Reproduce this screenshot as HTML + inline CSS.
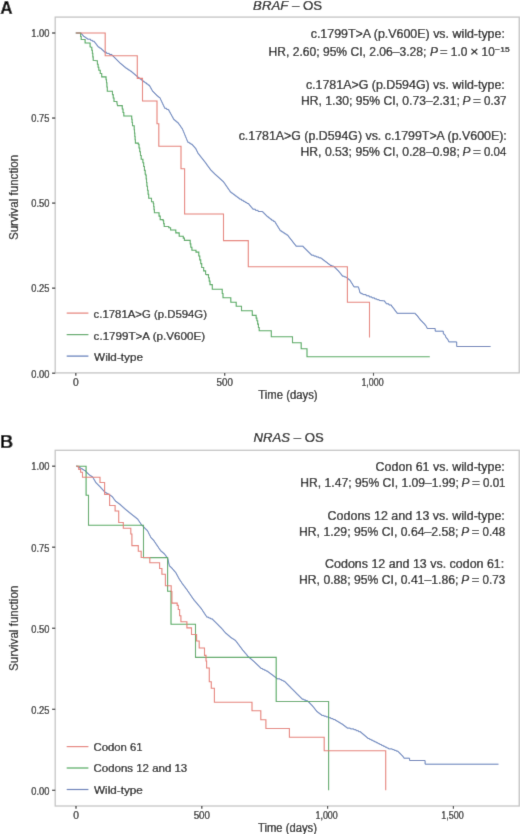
<!DOCTYPE html>
<html><head><meta charset="utf-8"><style>
html,body{margin:0;padding:0;background:#fff;width:520px;height:834px;overflow:hidden}
svg{display:block}
text{font-family:'Liberation Sans',sans-serif;white-space:pre;stroke:#000;stroke-width:0.22px}
</style></head><body>
<svg width="520" height="834" viewBox="0 0 520 834">
<defs><filter id="bl" x="0" y="0" width="520" height="834" filterUnits="userSpaceOnUse"><feConvolveMatrix order="3" kernelMatrix="0.0115 0.084 0.0115 0.084 0.619 0.084 0.0115 0.084 0.0115" divisor="1" edgeMode="duplicate" preserveAlpha="true"/></filter></defs>
<g filter="url(#bl)">
<rect width="520" height="834" fill="#fff"/>
<rect x="55.2" y="17.1" width="464.00000000000006" height="355.79999999999995" fill="none" stroke="#c4c4c4" stroke-width="1.3"/>
<line x1="52" y1="33.0" x2="55.2" y2="33.0" stroke="#111111" stroke-width="1.1"/>
<text x="31.28" y="37.00" textLength="18.19" lengthAdjust="spacingAndGlyphs" style="font-size:10.50px" fill="#111111">1.00</text>
<line x1="52" y1="118.05" x2="55.2" y2="118.05" stroke="#111111" stroke-width="1.1"/>
<text x="31.31" y="122.00" textLength="18.19" lengthAdjust="spacingAndGlyphs" style="font-size:10.50px" fill="#111111">0.75</text>
<line x1="52" y1="203.1" x2="55.2" y2="203.1" stroke="#111111" stroke-width="1.1"/>
<text x="31.28" y="207.00" textLength="18.19" lengthAdjust="spacingAndGlyphs" style="font-size:10.50px" fill="#111111">0.50</text>
<line x1="52" y1="288.15" x2="55.2" y2="288.15" stroke="#111111" stroke-width="1.1"/>
<text x="31.31" y="292.00" textLength="18.19" lengthAdjust="spacingAndGlyphs" style="font-size:10.50px" fill="#111111">0.25</text>
<line x1="52" y1="373.2" x2="55.2" y2="373.2" stroke="#111111" stroke-width="1.1"/>
<text x="31.28" y="378.00" textLength="18.19" lengthAdjust="spacingAndGlyphs" style="font-size:10.50px" fill="#111111">0.00</text>
<line x1="75.8" y1="372.9" x2="75.8" y2="375.7" stroke="#111111" stroke-width="1.1"/>
<text x="72.95" y="385.70" textLength="5.70" lengthAdjust="spacingAndGlyphs" style="font-size:10.20px" fill="#111111">0</text>
<line x1="224.7" y1="372.9" x2="224.7" y2="375.7" stroke="#111111" stroke-width="1.1"/>
<text x="216.56" y="385.70" textLength="16.28" lengthAdjust="spacingAndGlyphs" style="font-size:10.20px" fill="#111111">500</text>
<line x1="373.5" y1="372.9" x2="373.5" y2="375.7" stroke="#111111" stroke-width="1.1"/>
<text x="361.43" y="385.70" textLength="22.23" lengthAdjust="spacingAndGlyphs" style="font-size:10.20px" fill="#111111">1,000</text>
<rect x="55.2" y="450.3" width="464.00000000000006" height="355.7" fill="none" stroke="#c4c4c4" stroke-width="1.3"/>
<line x1="52" y1="466.2" x2="55.2" y2="466.2" stroke="#111111" stroke-width="1.1"/>
<text x="31.28" y="470.00" textLength="18.19" lengthAdjust="spacingAndGlyphs" style="font-size:10.50px" fill="#111111">1.00</text>
<line x1="52" y1="547.2" x2="55.2" y2="547.2" stroke="#111111" stroke-width="1.1"/>
<text x="31.31" y="552.00" textLength="18.19" lengthAdjust="spacingAndGlyphs" style="font-size:10.50px" fill="#111111">0.75</text>
<line x1="52" y1="628.25" x2="55.2" y2="628.25" stroke="#111111" stroke-width="1.1"/>
<text x="31.28" y="633.00" textLength="18.19" lengthAdjust="spacingAndGlyphs" style="font-size:10.50px" fill="#111111">0.50</text>
<line x1="52" y1="709.3" x2="55.2" y2="709.3" stroke="#111111" stroke-width="1.1"/>
<text x="31.31" y="714.00" textLength="18.19" lengthAdjust="spacingAndGlyphs" style="font-size:10.50px" fill="#111111">0.25</text>
<line x1="52" y1="790.3" x2="55.2" y2="790.3" stroke="#111111" stroke-width="1.1"/>
<text x="31.28" y="795.00" textLength="18.19" lengthAdjust="spacingAndGlyphs" style="font-size:10.50px" fill="#111111">0.00</text>
<line x1="76.0" y1="806.0" x2="76.0" y2="808.8" stroke="#111111" stroke-width="1.1"/>
<text x="73.15" y="818.80" textLength="5.70" lengthAdjust="spacingAndGlyphs" style="font-size:10.20px" fill="#111111">0</text>
<line x1="201.8" y1="806.0" x2="201.8" y2="808.8" stroke="#111111" stroke-width="1.1"/>
<text x="193.66" y="818.80" textLength="16.28" lengthAdjust="spacingAndGlyphs" style="font-size:10.20px" fill="#111111">500</text>
<line x1="327.6" y1="806.0" x2="327.6" y2="808.8" stroke="#111111" stroke-width="1.1"/>
<text x="315.53" y="818.80" textLength="22.23" lengthAdjust="spacingAndGlyphs" style="font-size:10.20px" fill="#111111">1,000</text>
<line x1="453.4" y1="806.0" x2="453.4" y2="808.8" stroke="#111111" stroke-width="1.1"/>
<text x="441.17" y="818.80" textLength="22.54" lengthAdjust="spacingAndGlyphs" style="font-size:10.20px" fill="#111111">1,500</text>
<polyline points="75.80,33.00 80.50,33.00 81.25,33.00 81.25,33.88 82.00,33.88 82.00,34.75 82.75,34.75 82.75,35.62 83.50,35.62 83.50,36.50 84.80,36.50 84.80,37.40 86.10,37.40 86.10,38.30 87.40,38.30 87.40,39.20 90.50,39.20 90.50,40.30 92.40,40.30 92.40,41.25 94.30,41.25 94.30,42.20 95.08,42.20 95.08,43.20 95.86,43.20 95.86,44.20 96.64,44.20 96.64,45.20 97.42,45.20 97.42,46.20 98.20,46.20 98.20,47.20 99.70,47.20 99.70,48.20 101.20,48.20 101.20,49.20 102.23,49.20 102.23,50.20 103.27,50.20 103.27,51.20 104.30,51.20 104.30,52.20 106.60,52.20 106.60,53.40 109.30,53.40 109.30,54.45 112.00,54.45 112.00,55.50 113.00,55.50 113.00,56.50 114.00,56.50 114.00,57.50 115.00,57.50 115.00,58.50 116.00,58.50 116.00,59.50 117.00,59.50 117.00,60.50 118.00,60.50 118.00,61.50 119.00,61.50 119.00,62.50 120.00,62.50 120.00,63.50 121.16,63.50 121.16,64.46 122.32,64.46 122.32,65.42 123.48,65.42 123.48,66.38 124.64,66.38 124.64,67.34 125.80,67.34 125.80,68.30 127.22,68.30 127.22,69.25 128.65,69.25 128.65,70.20 130.07,70.20 130.07,71.15 131.50,71.15 131.50,72.10 132.63,72.10 132.63,73.07 133.77,73.07 133.77,74.03 134.90,74.03 134.90,75.00 136.03,75.00 136.03,75.97 137.17,75.97 137.17,76.93 138.30,76.93 138.30,77.90 139.64,77.90 139.64,78.90 140.98,78.90 140.98,79.90 142.32,79.90 142.32,80.90 143.66,80.90 143.66,81.90 145.00,81.90 145.00,82.90 146.53,82.90 146.53,84.03 148.07,84.03 148.07,85.17 149.60,85.17 149.60,86.30 150.18,86.30 150.18,87.34 150.76,87.34 150.76,88.38 151.34,88.38 151.34,89.42 151.92,89.42 151.92,90.46 152.50,90.46 152.50,91.50 153.50,91.50 153.50,92.53 154.50,92.53 154.50,93.55 155.50,93.55 155.50,94.57 156.50,94.57 156.50,95.60 157.67,95.60 157.67,96.57 158.83,96.57 158.83,97.53 160.00,97.53 160.00,98.50 160.46,98.50 160.46,99.48 160.92,99.48 160.92,100.46 161.38,100.46 161.38,101.44 161.84,101.44 161.84,102.42 162.30,102.42 162.30,103.40 162.76,103.40 162.76,104.38 163.22,104.38 163.22,105.36 163.68,105.36 163.68,106.34 164.14,106.34 164.14,107.32 164.60,107.32 164.60,108.30 166.65,108.30 166.65,109.45 168.70,109.45 168.70,110.60 169.27,110.60 169.27,111.62 169.83,111.62 169.83,112.64 170.40,112.64 170.40,113.67 170.97,113.67 170.97,114.69 171.53,114.69 171.53,115.71 172.10,115.71 172.10,116.73 172.67,116.73 172.67,117.76 173.23,117.76 173.23,118.78 173.80,118.78 173.80,119.80 174.98,119.80 174.98,120.80 176.15,120.80 176.15,121.80 177.32,121.80 177.32,122.80 178.50,122.80 178.50,123.80 179.17,123.80 179.17,124.77 179.83,124.77 179.83,125.73 180.50,125.73 180.50,126.70 181.17,126.70 181.17,127.67 181.83,127.67 181.83,128.63 182.50,128.63 182.50,129.60 182.90,129.60 182.90,130.58 183.30,130.58 183.30,131.55 183.70,131.55 183.70,132.53 184.10,132.53 184.10,133.51 184.50,133.51 184.50,134.48 184.90,134.48 184.90,135.46 185.30,135.46 185.30,136.44 185.70,136.44 185.70,137.42 186.10,137.42 186.10,138.39 186.50,138.39 186.50,139.37 186.90,139.37 186.90,140.35 187.30,140.35 187.30,141.32 187.70,141.32 187.70,142.30 189.23,142.30 189.23,143.27 190.77,143.27 190.77,144.23 192.30,144.23 192.30,145.20 193.18,145.20 193.18,146.20 194.05,146.20 194.05,147.20 194.93,147.20 194.93,148.20 195.80,148.20 195.80,149.20 196.26,149.20 196.26,150.12 196.72,150.12 196.72,151.04 197.18,151.04 197.18,151.96 197.64,151.96 197.64,152.88 198.10,152.88 198.10,153.80 198.86,153.80 198.86,154.76 199.62,154.76 199.62,155.73 200.39,155.73 200.39,156.69 201.15,156.69 201.15,157.65 201.91,157.65 201.91,158.61 202.67,158.61 202.67,159.57 203.44,159.57 203.44,160.54 204.20,160.54 204.20,161.50 204.97,161.50 204.97,162.56 205.75,162.56 205.75,163.62 206.53,163.62 206.53,164.69 207.30,164.69 207.30,165.75 208.07,165.75 208.07,166.81 208.85,166.81 208.85,167.88 209.62,167.88 209.62,168.94 210.40,168.94 210.40,170.00 211.32,170.00 211.32,170.92 212.24,170.92 212.24,171.84 213.16,171.84 213.16,172.76 214.08,172.76 214.08,173.68 215.00,173.68 215.00,174.60 216.06,174.60 216.06,175.56 217.12,175.56 217.12,176.53 218.19,176.53 218.19,177.49 219.25,177.49 219.25,178.45 220.31,178.45 220.31,179.41 221.38,179.41 221.38,180.38 222.44,180.38 222.44,181.34 223.50,181.34 223.50,182.30 224.19,182.30 224.19,183.30 224.88,183.30 224.88,184.30 225.57,184.30 225.57,185.30 226.26,185.30 226.26,186.30 226.95,186.30 226.95,187.30 227.64,187.30 227.64,188.30 228.33,188.30 228.33,189.30 229.02,189.30 229.02,190.30 229.71,190.30 229.71,191.30 230.40,191.30 230.40,192.30 231.71,192.30 231.71,193.29 233.03,193.29 233.03,194.27 234.34,194.27 234.34,195.26 235.66,195.26 235.66,196.24 236.97,196.24 236.97,197.23 238.29,197.23 238.29,198.21 239.60,198.21 239.60,199.20 241.44,199.20 241.44,200.28 243.28,200.28 243.28,201.36 245.12,201.36 245.12,202.44 246.96,202.44 246.96,203.52 248.80,203.52 248.80,204.60 249.58,204.60 249.58,205.52 250.36,205.52 250.36,206.44 251.14,206.44 251.14,207.36 251.92,207.36 251.92,208.28 252.70,208.28 252.70,209.20 255.40,209.20 255.40,210.35 258.10,210.35 258.10,211.50 262.70,211.50 262.70,212.30 263.62,212.30 263.62,213.22 264.54,213.22 264.54,214.14 265.46,214.14 265.46,215.06 266.38,215.06 266.38,215.98 267.30,215.98 267.30,216.90 268.70,216.90 268.70,218.00 270.10,218.00 270.10,219.10 271.50,219.10 271.50,220.20 273.25,220.20 273.25,221.35 275.00,221.35 275.00,222.50 275.65,222.50 275.65,223.55 276.30,223.55 276.30,224.60 276.95,224.60 276.95,225.65 277.60,225.65 277.60,226.70 278.25,226.70 278.25,227.75 278.90,227.75 278.90,228.80 279.55,228.80 279.55,229.85 280.20,229.85 280.20,230.90 281.70,230.90 281.70,231.88 283.20,231.88 283.20,232.86 284.70,232.86 284.70,233.84 286.20,233.84 286.20,234.82 287.70,234.82 287.70,235.80 288.51,235.80 288.51,236.84 289.32,236.84 289.32,237.88 290.13,237.88 290.13,238.92 290.94,238.92 290.94,239.96 291.75,239.96 291.75,241.00 292.56,241.00 292.56,242.04 293.37,242.04 293.37,243.08 294.18,243.08 294.18,244.12 294.99,244.12 294.99,245.16 295.80,245.16 295.80,246.20 303.30,246.20 303.30,247.30 304.30,247.30 304.30,248.29 305.30,248.29 305.30,249.28 306.30,249.28 306.30,250.26 307.30,250.26 307.30,251.25 308.30,251.25 308.30,252.24 309.30,252.24 309.30,253.22 310.30,253.22 310.30,254.21 311.30,254.21 311.30,255.20 313.79,255.20 313.79,256.09 316.27,256.09 316.27,256.98 318.76,256.98 318.76,257.86 321.25,257.86 321.25,258.75 322.50,258.75 322.50,259.70 323.75,259.70 323.75,260.65 325.00,260.65 325.00,261.60 326.25,261.60 326.25,262.55 327.50,262.55 327.50,263.50 328.75,263.50 328.75,264.45 330.00,264.45 330.00,265.40 331.90,265.40 331.90,266.15 333.80,266.15 333.80,266.90 334.74,266.90 334.74,267.82 335.68,267.82 335.68,268.74 336.62,268.74 336.62,269.66 337.56,269.66 337.56,270.58 338.50,270.58 338.50,271.50 339.26,271.50 339.26,272.44 340.02,272.44 340.02,273.38 340.78,273.38 340.78,274.32 341.54,274.32 341.54,275.26 342.30,275.26 342.30,276.20 344.25,276.20 344.25,276.95 346.20,276.95 346.20,277.70 347.47,277.70 347.47,278.73 348.73,278.73 348.73,279.77 350.00,279.77 350.00,280.80 350.63,280.80 350.63,281.82 351.27,281.82 351.27,282.83 351.90,282.83 351.90,283.85 352.53,283.85 352.53,284.87 353.17,284.87 353.17,285.88 353.80,285.88 353.80,286.90 358.50,286.90 358.50,287.70 358.80,287.70 358.80,288.78 359.10,288.78 359.10,289.86 359.40,289.86 359.40,290.94 359.70,290.94 359.70,292.02 360.00,292.02 360.00,293.10 361.55,293.10 361.55,293.85 363.10,293.85 363.10,294.60 366.15,294.60 366.15,295.75 369.20,295.75 369.20,296.90 371.90,296.90 371.90,297.90 374.60,297.90 374.60,298.90 376.90,298.90 376.90,299.70 379.20,299.70 379.20,300.50 383.80,300.80 384.60,300.80 384.60,301.80 385.40,301.80 385.40,302.80 386.20,302.80 386.20,303.80 388.85,303.80 388.85,305.00 391.50,305.00 391.50,306.20 392.27,306.20 392.27,307.20 393.03,307.20 393.03,308.20 393.80,308.20 393.80,309.20 394.57,309.20 394.57,310.23 395.35,310.23 395.35,311.25 396.12,311.25 396.12,312.27 396.90,312.27 396.90,313.30 414.20,313.30 415.35,313.30 415.35,314.40 416.50,314.40 416.50,315.50 417.50,315.50 417.50,316.75 418.50,316.75 418.50,318.00 419.45,318.00 419.45,319.20 420.40,319.20 420.40,320.40 421.45,320.40 421.45,321.45 422.50,321.45 422.50,322.50 423.45,322.50 423.45,323.45 424.40,323.45 424.40,324.40 425.20,324.40 425.20,325.45 426.00,325.45 426.00,326.50 426.55,326.50 426.55,327.50 427.10,327.50 427.10,328.50 435.20,328.50 435.20,331.20 443.30,331.20 443.30,333.80 444.15,333.80 444.15,334.65 445.00,334.65 445.00,335.50 445.50,335.50 445.50,336.70 446.00,336.70 446.00,337.90 446.75,337.90 446.75,338.70 447.50,338.70 447.50,339.50 448.10,339.50 448.10,340.70 448.70,340.70 448.70,341.90 456.70,341.90 456.70,346.50 490.60,346.50" fill="none" stroke="#5475B6" stroke-width="1.0" stroke-linejoin="miter"/>
<polyline points="75.80,33.00 80.60,33.00 80.60,36.50 81.20,36.50 81.20,39.50 85.10,39.50 85.10,43.00 88.90,43.00 90.10,43.00 90.10,46.80 91.20,47.20 91.80,47.20 91.80,50.30 92.40,50.30 92.40,53.40 92.80,53.40 92.80,56.85 93.20,56.85 93.20,60.30 96.60,60.70 97.40,60.70 97.40,64.20 98.10,64.20 98.10,67.20 98.80,67.20 98.80,70.20 100.25,70.20 100.25,73.55 101.70,73.55 101.70,76.90 105.60,76.90 106.05,76.90 106.05,79.80 106.50,79.80 106.50,82.70 106.90,82.70 106.90,86.95 107.30,86.95 107.30,91.20 111.70,91.20 112.47,91.20 112.47,94.63 113.23,94.63 113.23,98.07 114.00,98.07 114.00,101.50 116.90,101.50 116.90,102.70 117.50,105.60 121.50,105.60 122.27,105.60 122.27,109.07 123.03,109.07 123.03,112.53 123.80,112.53 123.80,116.00 131.30,116.00 131.70,116.00 131.70,119.27 132.10,119.27 132.10,122.53 132.50,122.53 132.50,125.80 134.20,125.80 134.20,129.80 134.50,129.80 134.50,133.12 134.80,133.12 134.80,136.45 135.10,136.45 135.10,139.78 135.40,139.78 135.40,143.10 138.30,143.10 138.30,144.20 139.03,144.20 139.03,147.95 139.75,147.95 139.75,151.70 140.47,151.70 140.47,155.45 141.20,155.45 141.20,159.20 142.90,159.20 142.90,162.70 143.67,162.70 143.67,166.53 144.43,166.53 144.43,170.37 145.20,170.37 145.20,174.20 145.80,174.20 145.80,175.20 146.17,175.20 146.17,178.87 146.53,178.87 146.53,182.53 146.90,182.53 146.90,186.20 147.50,186.20 147.50,190.23 148.10,190.23 148.10,194.27 148.70,194.27 148.70,198.30 151.50,198.30 151.50,201.70 153.30,201.70 153.30,203.50 153.67,203.50 153.67,206.57 154.03,206.57 154.03,209.63 154.40,209.63 154.40,212.70 157.90,212.70 159.05,212.70 159.05,216.15 160.20,216.15 160.20,219.60 163.10,219.60 163.10,220.80 163.65,220.80 163.65,223.65 164.20,223.65 164.20,226.50 168.80,226.50 168.80,227.70 170.60,227.70 170.60,230.00 174.00,230.00 175.80,230.00 175.80,232.90 179.20,232.90 179.20,236.30 183.30,236.30 183.30,238.10 184.40,238.10 184.40,240.40 189.60,240.40 190.20,240.40 190.20,243.85 190.80,243.85 190.80,247.30 191.90,247.30 191.90,250.20 196.00,250.20 196.00,252.10 198.80,252.10 198.80,256.00 199.77,256.00 199.77,259.83 200.73,259.83 200.73,263.67 201.70,263.67 201.70,267.50 203.65,267.50 203.65,270.85 205.60,270.85 205.60,274.20 206.20,274.60 208.50,274.60 208.50,277.70 209.25,277.70 209.25,281.15 210.00,281.15 210.00,284.60 212.30,284.60 212.30,289.20 221.50,289.20 222.25,289.20 222.25,293.45 223.00,293.45 223.00,297.70 229.20,297.70 230.80,297.70 230.80,302.30 235.40,302.30 236.20,302.30 236.20,306.20 240.80,306.20 241.50,306.20 241.50,310.80 250.80,310.80 252.30,310.80 252.30,315.40 255.40,315.40 256.15,315.40 256.15,318.10 256.90,318.10 256.90,320.80 257.67,320.80 257.67,324.13 258.43,324.13 258.43,327.47 259.20,327.47 259.20,330.80 271.30,330.80 271.30,336.80 292.50,336.80 292.50,342.80 301.20,342.80 301.20,348.80 307.00,348.80 307.00,356.80 429.80,356.80" fill="none" stroke="#47A656" stroke-width="1.1" stroke-linejoin="miter"/>
<polyline points="75.80,33.00 105.20,33.00 105.20,55.70 137.30,55.70 137.30,78.40 142.50,78.40 142.50,101.00 157.00,101.00 157.00,123.70 158.80,123.70 158.80,146.20 181.00,146.20 181.00,168.70 184.60,168.70 184.60,214.00 223.50,214.00 223.50,240.60 248.30,240.60 248.30,266.80 347.40,266.80 347.40,302.20 369.50,302.20 369.50,337.50" fill="none" stroke="#E57B72" stroke-width="1.1" stroke-linejoin="miter"/>
<polyline points="76.00,466.20 77.63,466.20 77.63,467.03 79.27,467.03 79.27,467.87 80.90,467.87 80.90,468.70 82.43,468.70 82.43,469.63 83.97,469.63 83.97,470.57 85.50,470.57 85.50,471.50 86.38,471.50 86.38,472.38 87.25,472.38 87.25,473.25 88.12,473.25 88.12,474.12 89.00,474.12 89.00,475.00 90.17,475.00 90.17,475.77 91.33,475.77 91.33,476.53 92.50,476.53 92.50,477.30 93.07,477.30 93.07,478.27 93.63,478.27 93.63,479.23 94.20,479.23 94.20,480.20 94.77,480.20 94.77,481.17 95.33,481.17 95.33,482.13 95.90,482.13 95.90,483.10 96.82,483.10 96.82,484.02 97.74,484.02 97.74,484.94 98.66,484.94 98.66,485.86 99.58,485.86 99.58,486.78 100.50,486.78 100.50,487.70 101.32,487.70 101.32,488.62 102.14,488.62 102.14,489.54 102.96,489.54 102.96,490.46 103.78,490.46 103.78,491.38 104.60,491.38 104.60,492.30 105.93,492.30 105.93,493.07 107.27,493.07 107.27,493.83 108.60,493.83 108.60,494.60 109.77,494.60 109.77,495.37 110.93,495.37 110.93,496.13 112.10,496.13 112.10,496.90 112.78,496.90 112.78,497.82 113.46,497.82 113.46,498.74 114.14,498.74 114.14,499.66 114.82,499.66 114.82,500.58 115.50,500.58 115.50,501.50 116.72,501.50 116.72,502.43 117.95,502.43 117.95,503.35 119.18,503.35 119.18,504.27 120.40,504.27 120.40,505.20 121.37,505.20 121.37,506.07 122.33,506.07 122.33,506.93 123.30,506.93 123.30,507.80 124.27,507.80 124.27,508.67 125.23,508.67 125.23,509.53 126.20,509.53 126.20,510.40 127.34,510.40 127.34,511.32 128.48,511.32 128.48,512.24 129.62,512.24 129.62,513.16 130.76,513.16 130.76,514.08 131.90,514.08 131.90,515.00 133.06,515.00 133.06,515.92 134.22,515.92 134.22,516.84 135.38,516.84 135.38,517.76 136.54,517.76 136.54,518.68 137.70,518.68 137.70,519.60 138.28,519.60 138.28,520.47 138.87,520.47 138.87,521.33 139.45,521.33 139.45,522.20 140.03,522.20 140.03,523.07 140.62,523.07 140.62,523.93 141.20,523.93 141.20,524.80 141.97,524.80 141.97,525.57 142.73,525.57 142.73,526.33 143.50,526.33 143.50,527.10 144.30,527.10 144.30,527.92 145.10,527.92 145.10,528.74 145.90,528.74 145.90,529.56 146.70,529.56 146.70,530.38 147.50,530.38 147.50,531.20 147.94,531.20 147.94,532.06 148.38,532.06 148.38,532.93 148.81,532.93 148.81,533.79 149.25,533.79 149.25,534.65 149.69,534.65 149.69,535.51 150.12,535.51 150.12,536.38 150.56,536.38 150.56,537.24 151.00,537.24 151.00,538.10 151.93,538.10 151.93,539.07 152.87,539.07 152.87,540.03 153.80,540.03 153.80,541.00 154.38,541.00 154.38,541.87 154.97,541.87 154.97,542.73 155.55,542.73 155.55,543.60 156.13,543.60 156.13,544.47 156.72,544.47 156.72,545.33 157.30,545.33 157.30,546.20 157.88,546.20 157.88,547.05 158.47,547.05 158.47,547.90 159.05,547.90 159.05,548.75 159.63,548.75 159.63,549.60 160.22,549.60 160.22,550.45 160.80,550.45 160.80,551.30 161.93,551.30 161.93,552.27 163.07,552.27 163.07,553.23 164.20,553.23 164.20,554.20 164.90,554.20 164.90,555.06 165.60,555.06 165.60,555.92 166.30,555.92 166.30,556.78 167.00,556.78 167.00,557.64 167.70,557.64 167.70,558.50 167.89,558.50 167.89,559.36 168.08,559.36 168.08,560.21 168.27,560.21 168.27,561.07 168.46,561.07 168.46,561.92 168.64,561.92 168.64,562.78 168.83,562.78 168.83,563.63 169.02,563.63 169.02,564.49 169.21,564.49 169.21,565.34 169.40,565.34 169.40,566.20 170.37,566.20 170.37,567.13 171.33,567.13 171.33,568.07 172.30,568.07 172.30,569.00 173.00,569.00 173.00,569.82 173.70,569.82 173.70,570.64 174.40,570.64 174.40,571.46 175.10,571.46 175.10,572.28 175.80,572.28 175.80,573.10 176.29,573.10 176.29,574.00 176.77,574.00 176.77,574.90 177.26,574.90 177.26,575.80 177.74,575.80 177.74,576.70 178.23,576.70 178.23,577.60 178.71,577.60 178.71,578.50 179.20,578.50 179.20,579.40 179.78,579.40 179.78,580.27 180.37,580.27 180.37,581.13 180.95,581.13 180.95,582.00 181.53,582.00 181.53,582.87 182.12,582.87 182.12,583.73 182.70,583.73 182.70,584.60 183.39,584.60 183.39,585.51 184.07,585.51 184.07,586.43 184.76,586.43 184.76,587.34 185.44,587.34 185.44,588.26 186.13,588.26 186.13,589.17 186.81,589.17 186.81,590.09 187.50,590.09 187.50,591.00 188.10,591.00 188.10,591.88 188.70,591.88 188.70,592.76 189.30,592.76 189.30,593.64 189.90,593.64 189.90,594.52 190.50,594.52 190.50,595.40 191.10,595.40 191.10,596.28 191.70,596.28 191.70,597.16 192.30,597.16 192.30,598.04 192.90,598.04 192.90,598.92 193.50,598.92 193.50,599.80 194.29,599.80 194.29,600.74 195.08,600.74 195.08,601.68 195.87,601.68 195.87,602.62 196.66,602.62 196.66,603.56 197.45,603.56 197.45,604.50 198.24,604.50 198.24,605.44 199.03,605.44 199.03,606.38 199.82,606.38 199.82,607.32 200.61,607.32 200.61,608.26 201.40,608.26 201.40,609.20 201.98,609.20 201.98,610.08 202.56,610.08 202.56,610.96 203.13,610.96 203.13,611.83 203.71,611.83 203.71,612.71 204.29,612.71 204.29,613.59 204.87,613.59 204.87,614.47 205.44,614.47 205.44,615.34 206.02,615.34 206.02,616.22 206.60,616.22 206.60,617.10 208.60,617.10 208.60,618.00 210.60,618.00 210.60,618.90 212.60,618.90 212.60,619.80 213.43,619.80 213.43,620.62 214.25,620.62 214.25,621.45 215.07,621.45 215.07,622.27 215.90,622.27 215.90,623.10 216.78,623.10 216.78,623.98 217.67,623.98 217.67,624.87 218.55,624.87 218.55,625.75 219.43,625.75 219.43,626.63 220.32,626.63 220.32,627.52 221.20,627.52 221.20,628.40 221.97,628.40 221.97,629.27 222.73,629.27 222.73,630.13 223.50,630.13 223.50,631.00 224.27,631.00 224.27,631.87 225.03,631.87 225.03,632.73 225.80,632.73 225.80,633.60 226.95,633.60 226.95,634.60 228.10,634.60 228.10,635.60 229.25,635.60 229.25,636.60 230.40,636.60 230.40,637.60 231.65,637.60 231.65,638.40 232.90,638.40 232.90,639.20 234.15,639.20 234.15,640.00 235.40,640.00 235.40,640.80 236.09,640.80 236.09,641.72 236.78,641.72 236.78,642.64 237.47,642.64 237.47,643.56 238.16,643.56 238.16,644.48 238.85,644.48 238.85,645.40 239.54,645.40 239.54,646.32 240.23,646.32 240.23,647.24 240.92,647.24 240.92,648.16 241.61,648.16 241.61,649.08 242.30,649.08 242.30,650.00 243.03,650.00 243.03,650.86 243.75,650.86 243.75,651.73 244.47,651.73 244.47,652.59 245.20,652.59 245.20,653.45 245.93,653.45 245.93,654.31 246.65,654.31 246.65,655.17 247.38,655.17 247.38,656.04 248.10,656.04 248.10,656.90 249.08,656.90 249.08,657.75 250.07,657.75 250.07,658.60 251.05,658.60 251.05,659.45 252.03,659.45 252.03,660.30 253.02,660.30 253.02,661.15 254.00,661.15 254.00,662.00 254.97,662.00 254.97,662.93 255.94,662.93 255.94,663.86 256.91,663.86 256.91,664.79 257.89,664.79 257.89,665.71 258.86,665.71 258.86,666.64 259.83,666.64 259.83,667.57 260.80,667.57 260.80,668.50 262.52,668.50 262.52,669.35 264.25,669.35 264.25,670.20 265.98,670.20 265.98,671.05 267.70,671.05 267.70,671.90 268.85,671.90 268.85,672.76 270.00,672.76 270.00,673.62 271.15,673.62 271.15,674.49 272.30,674.49 272.30,675.35 273.45,675.35 273.45,676.21 274.60,676.21 274.60,677.07 275.75,677.07 275.75,677.94 276.90,677.94 276.90,678.80 280.00,678.80 280.00,679.60 281.53,679.60 281.53,680.37 283.07,680.37 283.07,681.13 284.60,681.13 284.60,681.90 285.57,681.90 285.57,682.87 286.53,682.87 286.53,683.83 287.50,683.83 287.50,684.80 288.47,684.80 288.47,685.77 289.43,685.77 289.43,686.73 290.40,686.73 290.40,687.70 291.26,687.70 291.26,688.56 292.12,688.56 292.12,689.43 292.99,689.43 292.99,690.29 293.85,690.29 293.85,691.15 294.71,691.15 294.71,692.01 295.57,692.01 295.57,692.88 296.44,692.88 296.44,693.74 297.30,693.74 297.30,694.60 298.22,694.60 298.22,695.52 299.14,695.52 299.14,696.44 300.06,696.44 300.06,697.36 300.98,697.36 300.98,698.28 301.90,698.28 301.90,699.20 303.83,699.20 303.83,699.97 305.77,699.97 305.77,700.73 307.70,700.73 307.70,701.50 308.62,701.50 308.62,702.44 309.54,702.44 309.54,703.38 310.46,703.38 310.46,704.32 311.38,704.32 311.38,705.26 312.30,705.26 312.30,706.20 313.07,706.20 313.07,707.15 313.83,707.15 313.83,708.10 314.60,708.10 314.60,709.05 315.37,709.05 315.37,710.00 316.13,710.00 316.13,710.95 316.90,710.95 316.90,711.90 318.05,711.90 318.05,712.77 319.20,712.77 319.20,713.65 320.35,713.65 320.35,714.52 321.50,714.52 321.50,715.40 323.83,715.40 323.83,716.17 326.17,716.17 326.17,716.93 328.50,716.93 328.50,717.70 330.80,717.70 330.80,718.63 333.10,718.63 333.10,719.57 335.40,719.57 335.40,720.50 336.78,720.50 336.78,721.32 338.16,721.32 338.16,722.14 339.54,722.14 339.54,722.96 340.92,722.96 340.92,723.78 342.30,723.78 342.30,724.60 343.45,724.60 343.45,725.48 344.60,725.48 344.60,726.35 345.75,726.35 345.75,727.23 346.90,727.23 346.90,728.10 350.35,728.10 350.35,728.90 353.80,728.90 353.80,729.70 356.13,729.70 356.13,730.70 358.47,730.70 358.47,731.70 360.80,731.70 360.80,732.70 361.95,732.70 361.95,733.67 363.10,733.67 363.10,734.63 364.25,734.63 364.25,735.60 365.40,735.60 365.40,736.57 366.55,736.57 366.55,737.53 367.70,737.53 367.70,738.50 369.43,738.50 369.43,739.35 371.15,739.35 371.15,740.20 372.88,740.20 372.88,741.05 374.60,741.05 374.60,741.90 376.33,741.90 376.33,742.77 378.05,742.77 378.05,743.65 379.77,743.65 379.77,744.52 381.50,744.52 381.50,745.40 383.25,745.40 383.25,746.27 385.00,746.27 385.00,747.15 386.75,747.15 386.75,748.02 388.50,748.02 388.50,748.90 392.30,748.90 392.30,749.60 394.23,749.60 394.23,750.37 396.17,750.37 396.17,751.13 398.10,751.13 398.10,751.90 398.87,751.90 398.87,752.67 399.63,752.67 399.63,753.43 400.40,753.43 400.40,754.20 401.17,754.20 401.17,754.97 401.93,754.97 401.93,755.73 402.70,755.73 402.70,756.50 403.25,756.50 403.25,757.35 403.80,757.35 403.80,758.20 409.60,758.20 409.60,760.50 425.10,760.50 425.10,764.20 498.50,764.20" fill="none" stroke="#5475B6" stroke-width="1.0" stroke-linejoin="miter"/>
<polyline points="76.00,466.20 86.10,466.20 86.10,495.20 88.50,495.20 88.50,525.20 143.50,525.20 143.50,557.60 167.60,557.60 167.60,591.20 171.00,591.20 171.00,624.30 195.50,624.30 195.50,657.40 276.20,657.40 276.20,701.50 328.60,701.50 328.60,790.20" fill="none" stroke="#47A656" stroke-width="1.1" stroke-linejoin="miter"/>
<polyline points="76.00,466.20 78.70,466.20 78.70,469.40 80.60,469.40 80.60,472.30 82.50,472.30 82.50,477.20 100.00,477.20 100.00,482.50 104.60,482.50 104.60,494.40 109.60,494.40 109.60,505.50 115.10,505.50 115.10,511.00 118.70,511.00 118.70,522.50 123.30,522.50 123.30,528.30 130.80,528.30 130.80,534.00 131.90,534.00 131.90,545.60 138.30,545.60 138.30,551.30 141.20,551.30 141.20,557.50 149.80,557.50 149.80,562.70 159.60,562.70 159.60,568.50 161.90,568.50 161.90,574.20 165.40,574.20 165.40,585.80 171.20,585.80 171.20,591.50 171.90,591.50 171.90,603.10 177.20,603.10 177.20,605.40 178.30,605.40 178.30,609.50 179.60,609.50 179.60,615.80 180.90,615.80 180.90,621.80 186.90,621.80 186.90,627.90 191.50,627.90 191.50,634.50 196.60,634.50 196.60,641.00 199.20,641.00 199.20,648.00 204.50,648.00 204.50,655.40 206.00,655.40 206.00,661.00 206.60,661.00 206.60,668.00 209.30,668.00 209.30,681.80 211.30,681.80 211.30,688.30 214.40,688.30 214.40,702.20 252.00,702.20 252.00,710.70 260.80,710.70 260.80,719.70 265.90,719.70 265.90,728.50 289.40,728.50 289.40,737.30 324.20,737.30 324.20,750.80 385.70,750.80 385.70,790.20" fill="none" stroke="#E57B72" stroke-width="1.1" stroke-linejoin="miter"/>
<text x="0.37" y="13.70" textLength="12.38" lengthAdjust="spacingAndGlyphs" style="font-weight:bold;font-size:18.00px" fill="#000">A</text>
<text x="-0.07" y="447.70" textLength="13.20" lengthAdjust="spacingAndGlyphs" style="font-weight:bold;font-size:18.00px" fill="#000">B</text>
<text x="253.09" y="9.50" textLength="35.24" lengthAdjust="spacingAndGlyphs" style="font-style:italic;font-size:12.00px" fill="#000000">BRAF</text>
<text x="288.33" y="9.50" textLength="33.78" lengthAdjust="spacingAndGlyphs" style="font-size:12.00px" fill="#000000"> – OS</text>
<text x="253.59" y="441.90" textLength="36.51" lengthAdjust="spacingAndGlyphs" style="font-style:italic;font-size:12.00px" fill="#000000">NRAS</text>
<text x="290.10" y="441.90" textLength="33.60" lengthAdjust="spacingAndGlyphs" style="font-size:12.00px" fill="#000000"> – OS</text>
<text x="310.68" y="38.20" textLength="194.20" lengthAdjust="spacingAndGlyphs" style="font-size:12.40px" fill="#000000">c.1799T&gt;A (p.V600E) vs. wild-type:</text>
<text x="268.61" y="56.00" textLength="157.67" lengthAdjust="spacingAndGlyphs" style="font-size:12.40px" fill="#000000">HR, 2.60; 95% CI, 2.06–3.28;</text>
<text x="429.93" y="56.00" textLength="8.05" lengthAdjust="spacingAndGlyphs" style="font-style:italic;font-size:12.40px" fill="#000000">P</text>
<text x="440.05" y="56.00" textLength="7.69" lengthAdjust="spacingAndGlyphs" style="font-size:12.40px" fill="#000000">=</text>
<text x="450.79" y="56.00" textLength="16.68" lengthAdjust="spacingAndGlyphs" style="font-size:12.40px" fill="#000000">1.0</text>
<text x="470.31" y="56.00" textLength="8.27" lengthAdjust="spacingAndGlyphs" style="font-size:12.40px" fill="#000000">×</text>
<text x="481.61" y="56.00" textLength="13.05" lengthAdjust="spacingAndGlyphs" style="font-size:12.40px" fill="#000000">10</text>
<text x="494.66" y="52.00" textLength="5.29" lengthAdjust="spacingAndGlyphs" style="font-size:7.80px" fill="#000000">−</text>
<text x="500.26" y="52.00" textLength="9.40" lengthAdjust="spacingAndGlyphs" style="font-size:7.80px" fill="#000000">15</text>
<text x="305.88" y="88.50" textLength="198.95" lengthAdjust="spacingAndGlyphs" style="font-size:12.40px" fill="#000000">c.1781A&gt;G (p.D594G) vs. wild-type:</text>
<text x="301.00" y="104.90" textLength="158.78" lengthAdjust="spacingAndGlyphs" style="font-size:12.40px" fill="#000000">HR, 1.30; 95% CI, 0.73–2.31;</text>
<text x="462.53" y="104.90" textLength="7.94" lengthAdjust="spacingAndGlyphs" style="font-style:italic;font-size:12.40px" fill="#000000">P</text>
<text x="472.93" y="104.90" textLength="7.93" lengthAdjust="spacingAndGlyphs" style="font-size:12.40px" fill="#000000">=</text>
<text x="483.95" y="104.90" textLength="22.64" lengthAdjust="spacingAndGlyphs" style="font-size:12.40px" fill="#000000">0.37</text>
<text x="238.68" y="140.30" textLength="268.05" lengthAdjust="spacingAndGlyphs" style="font-size:12.40px" fill="#000000">c.1781A&gt;G (p.D594G) vs. c.1799T&gt;A (p.V600E):</text>
<text x="300.50" y="155.90" textLength="159.29" lengthAdjust="spacingAndGlyphs" style="font-size:12.40px" fill="#000000">HR, 0.53; 95% CI, 0.28–0.98;</text>
<text x="462.53" y="155.90" textLength="7.94" lengthAdjust="spacingAndGlyphs" style="font-style:italic;font-size:12.40px" fill="#000000">P</text>
<text x="472.93" y="155.90" textLength="7.93" lengthAdjust="spacingAndGlyphs" style="font-size:12.40px" fill="#000000">=</text>
<text x="483.95" y="155.90" textLength="22.39" lengthAdjust="spacingAndGlyphs" style="font-size:12.40px" fill="#000000">0.04</text>
<text x="375.62" y="471.00" textLength="129.22" lengthAdjust="spacingAndGlyphs" style="font-size:12.40px" fill="#000000">Codon 61 vs. wild-type:</text>
<text x="300.25" y="487.25" textLength="158.53" lengthAdjust="spacingAndGlyphs" style="font-size:12.40px" fill="#000000">HR, 1.47; 95% CI, 1.09–1.99;</text>
<text x="461.53" y="487.25" textLength="7.94" lengthAdjust="spacingAndGlyphs" style="font-style:italic;font-size:12.40px" fill="#000000">P</text>
<text x="471.93" y="487.25" textLength="7.93" lengthAdjust="spacingAndGlyphs" style="font-size:12.40px" fill="#000000">=</text>
<text x="482.95" y="487.25" textLength="22.63" lengthAdjust="spacingAndGlyphs" style="font-size:12.40px" fill="#000000">0.01</text>
<text x="327.61" y="519.90" textLength="177.21" lengthAdjust="spacingAndGlyphs" style="font-size:12.40px" fill="#000000">Codons 12 and 13 vs. wild-type:</text>
<text x="299.00" y="536.00" textLength="159.39" lengthAdjust="spacingAndGlyphs" style="font-size:12.40px" fill="#000000">HR, 1.29; 95% CI, 0.64–2.58;</text>
<text x="461.13" y="536.00" textLength="7.94" lengthAdjust="spacingAndGlyphs" style="font-style:italic;font-size:12.40px" fill="#000000">P</text>
<text x="471.53" y="536.00" textLength="7.93" lengthAdjust="spacingAndGlyphs" style="font-size:12.40px" fill="#000000">=</text>
<text x="482.55" y="536.00" textLength="22.55" lengthAdjust="spacingAndGlyphs" style="font-size:12.40px" fill="#000000">0.48</text>
<text x="325.12" y="568.15" textLength="179.11" lengthAdjust="spacingAndGlyphs" style="font-size:12.40px" fill="#000000">Codons 12 and 13 vs. codon 61:</text>
<text x="299.00" y="584.15" textLength="159.39" lengthAdjust="spacingAndGlyphs" style="font-size:12.40px" fill="#000000">HR, 0.88; 95% CI, 0.41–1.86;</text>
<text x="461.13" y="584.15" textLength="7.94" lengthAdjust="spacingAndGlyphs" style="font-style:italic;font-size:12.40px" fill="#000000">P</text>
<text x="471.53" y="584.15" textLength="7.93" lengthAdjust="spacingAndGlyphs" style="font-size:12.40px" fill="#000000">=</text>
<text x="482.55" y="584.15" textLength="22.57" lengthAdjust="spacingAndGlyphs" style="font-size:12.40px" fill="#000000">0.73</text>
<text x="258.25" y="398.60" textLength="59.35" lengthAdjust="spacingAndGlyphs" style="font-size:12.00px" fill="#000000">Time (days)</text>
<text x="258.05" y="831.50" textLength="58.85" lengthAdjust="spacingAndGlyphs" style="font-size:12.00px" fill="#000000">Time (days)</text>
<text transform="translate(17.8,197.6) rotate(-90)" x="-42.52" y="0" textLength="85.28" lengthAdjust="spacingAndGlyphs" style="font-size:12.0px" fill="#000000">Survival function</text>
<text transform="translate(17.8,628.4) rotate(-90)" x="-42.52" y="0" textLength="85.28" lengthAdjust="spacingAndGlyphs" style="font-size:12.0px" fill="#000000">Survival function</text>
<line x1="66.7" y1="313.10" x2="88.4" y2="313.10" stroke="#E57B72" stroke-width="1.2"/>
<text x="93.62" y="318.15" textLength="113.38" lengthAdjust="spacingAndGlyphs" style="font-size:11.50px" fill="#000000">c.1781A&gt;G (p.D594G)</text>
<line x1="66.7" y1="334.60" x2="88.4" y2="334.60" stroke="#47A656" stroke-width="1.2"/>
<text x="93.61" y="339.65" textLength="111.41" lengthAdjust="spacingAndGlyphs" style="font-size:11.50px" fill="#000000">c.1799T&gt;A (p.V600E)</text>
<line x1="66.7" y1="356.10" x2="88.4" y2="356.10" stroke="#5475B6" stroke-width="1.2"/>
<text x="94.05" y="361.15" textLength="48.97" lengthAdjust="spacingAndGlyphs" style="font-size:11.50px" fill="#000000">Wild-type</text>
<line x1="66.7" y1="746.60" x2="88.4" y2="746.60" stroke="#E57B72" stroke-width="1.2"/>
<text x="93.52" y="751.05" textLength="49.13" lengthAdjust="spacingAndGlyphs" style="font-size:11.50px" fill="#000000">Codon 61</text>
<line x1="66.7" y1="768.00" x2="88.4" y2="768.00" stroke="#47A656" stroke-width="1.2"/>
<text x="93.52" y="772.45" textLength="93.69" lengthAdjust="spacingAndGlyphs" style="font-size:11.50px" fill="#000000">Codons 12 and 13</text>
<line x1="66.7" y1="789.50" x2="88.4" y2="789.50" stroke="#5475B6" stroke-width="1.2"/>
<text x="94.05" y="793.95" textLength="48.77" lengthAdjust="spacingAndGlyphs" style="font-size:11.50px" fill="#000000">Wild-type</text>
</g>
</svg>
</body></html>
